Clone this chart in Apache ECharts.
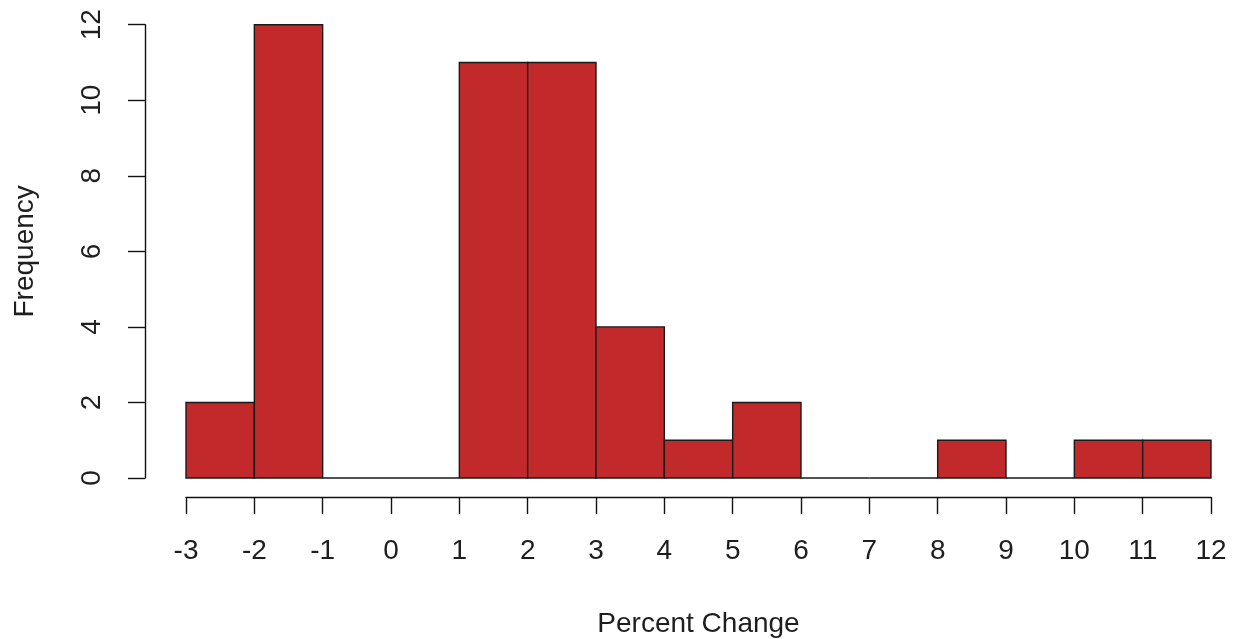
<!DOCTYPE html>
<html>
<head>
<meta charset="utf-8">
<script src="https://cdn.jsdelivr.net/npm/echarts@6/dist/echarts.min.js"></script>
<style>html,body{margin:0;padding:0;background:#fff;}#c{width:1233px;height:639px;}</style>
</head>
<body>
<div id="c"></div>
<script>
const binStarts = [-3, -2, -1, 0, 1, 2, 3, 4, 5, 6, 7, 8, 9, 10, 11];
const binEnds   = [-2, -1, 0, 1, 2, 3, 4, 5, 6, 7, 8, 9, 10, 11, 12];
const counts    = [2, 12, 0, 0, 11, 11, 4, 1, 2, 0, 0, 1, 0, 1, 1];
const xTicks = [-3, -2, -1, 0, 1, 2, 3, 4, 5, 6, 7, 8, 9, 10, 11, 12];
const yTicks = [0, 2, 4, 6, 8, 10, 12];
const xTitle = 'Percent Change';
const yTitle = 'Frequency';

const data = binStarts.map((s, i) => [s, binEnds[i], counts[i]]);
const font = 'Liberation Sans, Arial, sans-serif';
const txt = '#1e1e1e';

const chart = echarts.init(document.getElementById('c'));
chart.setOption({
  animation: false,
  backgroundColor: '#fff',
  grid: { left: 186, right: 22, top: 24.7, bottom: 161, containLabel: false, outerBoundsMode: 'none' },
  xAxis: {
    type: 'value', min: xTicks[0], max: xTicks[xTicks.length - 1], interval: 1,
    offset: 19,
    axisLine: { show: true, onZero: false, lineStyle: { color: '#111', width: 1.4 } },
    axisTick: { show: true, length: 17, lineStyle: { color: '#111', width: 1.4 } },
    axisLabel: { margin: 40, fontSize: 28, fontFamily: font, color: txt },
    splitLine: { show: false },
    name: xTitle, nameLocation: 'middle', nameGap: 113,
    nameTextStyle: { fontSize: 28, fontFamily: font, color: txt }
  },
  yAxis: {
    type: 'value', min: yTicks[0], max: yTicks[yTicks.length - 1], interval: 2,
    offset: 41,
    axisLine: { show: true, onZero: false, lineStyle: { color: '#111', width: 1.4 } },
    axisTick: { show: true, length: 17, lineStyle: { color: '#111', width: 1.4 } },
    axisLabel: { margin: 39, rotate: 90, fontSize: 28, fontFamily: font, color: txt },
    splitLine: { show: false },
    name: yTitle, nameLocation: 'middle', nameGap: 106,
    nameTextStyle: { fontSize: 28, fontFamily: font, color: txt }
  },
  series: [{
    type: 'custom',
    data: data,
    encode: { x: [0, 1], y: 2 },
    clip: false,
    renderItem: function (params, api) {
      const x0 = api.value(0), x1 = api.value(1), c = api.value(2);
      const p0 = api.coord([x0, 0]);
      const p1 = api.coord([x1, c]);
      return {
        type: 'polygon',
        shape: { points: [[p0[0], p0[1]], [p1[0], p0[1]], [p1[0], p1[1]], [p0[0], p1[1]]] },
        style: { fill: '#C1292B', stroke: '#1a1a1a', lineWidth: 1.4 }
      };
    }
  }]
});
</script>
</body>
</html>
